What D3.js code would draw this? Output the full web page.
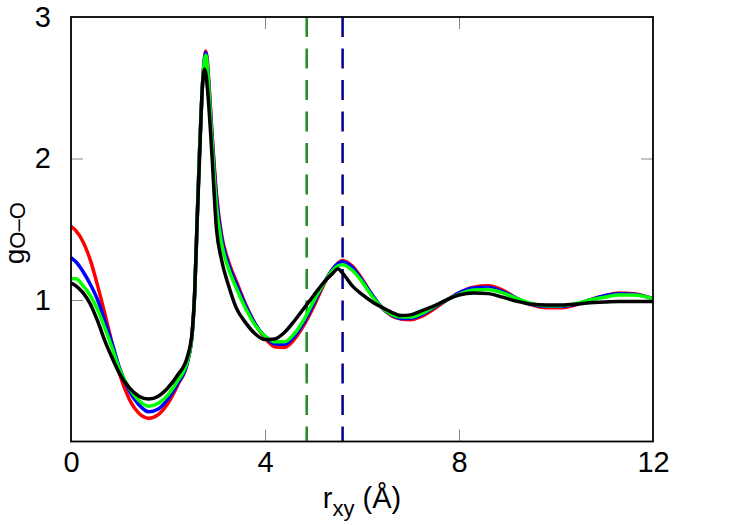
<!DOCTYPE html>
<html><head><meta charset="utf-8">
<script src="https://cdn.jsdelivr.net/npm/d3@7"></script>
<style>body{margin:0;background:#fff} svg{display:block;font-family:"Liberation Sans",Arial,sans-serif}</style>
</head><body><svg id="c" width="750" height="525"></svg>
<script>
// r_xy grid (Å)
const rValues = [0,0.1,0.25,0.4,0.55,0.7,0.85,1.0,1.2,1.4,1.6,1.8,2.0,2.2,2.4,2.5,2.55,2.6,2.65,2.7,2.75,2.78,2.85,2.9,3.0,3.1,3.25,3.4,3.6,3.8,4.0,4.2,4.4,4.6,4.8,5.0,5.2,5.4,5.5,5.6,5.8,6.0,6.2,6.4,6.6,6.8,7.0,7.2,7.5,7.8,8.0,8.3,8.6,8.9,9.2,9.5,9.8,10.1,10.4,10.7,11.0,11.3,11.6,12.0];
const gRed   = [1.52,1.49,1.41,1.28,1.10,0.90,0.69,0.48,0.30,0.20,0.165,0.19,0.27,0.40,0.56,0.77,1.05,1.55,2.05,2.45,2.70,2.76,2.50,2.22,1.75,1.47,1.27,1.14,0.97,0.83,0.73,0.67,0.665,0.72,0.82,0.95,1.10,1.22,1.26,1.28,1.24,1.15,1.04,0.95,0.89,0.865,0.86,0.88,0.94,1.01,1.05,1.09,1.10,1.07,1.01,0.965,0.945,0.945,0.965,1.00,1.03,1.05,1.045,1.01];
const gBlue  = [1.30,1.27,1.20,1.11,1.00,0.85,0.69,0.52,0.36,0.26,0.21,0.23,0.30,0.41,0.56,0.77,1.05,1.55,2.05,2.45,2.70,2.75,2.48,2.20,1.72,1.45,1.25,1.12,0.96,0.83,0.74,0.69,0.685,0.74,0.84,0.97,1.11,1.22,1.255,1.27,1.23,1.14,1.04,0.95,0.895,0.87,0.87,0.89,0.95,1.01,1.05,1.085,1.09,1.06,1.01,0.97,0.955,0.955,0.97,1.00,1.03,1.045,1.04,1.01];
const gGreen = [1.15,1.15,1.10,1.03,0.93,0.80,0.66,0.51,0.38,0.29,0.25,0.27,0.33,0.43,0.57,0.77,1.05,1.55,2.05,2.45,2.69,2.73,2.45,2.16,1.66,1.41,1.22,1.09,0.94,0.82,0.745,0.705,0.705,0.76,0.86,0.99,1.11,1.21,1.24,1.25,1.21,1.13,1.03,0.95,0.90,0.88,0.88,0.90,0.955,1.01,1.04,1.07,1.075,1.05,1.01,0.975,0.96,0.96,0.975,1.00,1.02,1.035,1.035,1.01];
const gBlack = [1.12,1.10,1.05,0.97,0.85,0.71,0.59,0.48,0.38,0.32,0.30,0.32,0.38,0.47,0.60,0.78,1.05,1.55,2.0,2.45,2.63,2.60,2.33,2.06,1.50,1.29,1.10,0.95,0.84,0.76,0.72,0.725,0.77,0.85,0.94,1.03,1.12,1.19,1.22,1.19,1.10,1.04,0.99,0.95,0.915,0.89,0.895,0.92,0.96,1.01,1.035,1.05,1.045,1.02,0.99,0.97,0.965,0.965,0.97,0.98,0.985,0.99,0.99,0.99];
const seriesColors = ["#ff0000","#0000ff","#00ff00","#000000"];
const xTicks = [0,4,8,12];
const yTicks = [1,2,3];
const markerR = [4.86, 5.60];
const markerColors = ["#228b22","#00008b"];

const FONT = "'Liberation Sans',Arial,sans-serif";
const svg = d3.select("#c");
const x = d3.scaleLinear([0,12],[71,653]);
const y = d3.scaleLinear([0,3],[441.5,17]);

// inner ticks
const tickStyle = g => { g.select(".domain").remove(); g.selectAll("line").attr("stroke","#888").attr("stroke-width",1); };
svg.append("g").attr("transform",`translate(0,${y(0)})`).call(d3.axisBottom(x).tickValues([4,8]).tickSize(-12).tickFormat("")).call(tickStyle);
svg.append("g").attr("transform",`translate(0,${y(3)})`).call(d3.axisTop(x).tickValues([4,8]).tickSize(-12).tickFormat("")).call(tickStyle);
svg.append("g").attr("transform",`translate(${x(0)},0)`).call(d3.axisLeft(y).tickValues([1,2]).tickSize(-12).tickFormat("")).call(tickStyle);
svg.append("g").attr("transform",`translate(${x(12)},0)`).call(d3.axisRight(y).tickValues([1,2]).tickSize(-12).tickFormat("")).call(tickStyle);

// tick labels
const lab = g => { g.select(".domain").remove(); g.selectAll("text").attr("font-size",29).attr("fill","#000").attr("font-family",FONT); };
svg.append("g").attr("transform",`translate(0,${y(0)})`).call(d3.axisBottom(x).tickValues(xTicks).tickSize(0).tickPadding(10).tickFormat(d3.format("d"))).call(lab);
svg.append("g").attr("transform",`translate(${x(0)},0)`).call(d3.axisLeft(y).tickValues(yTicks).tickSize(0).tickPadding(20).tickFormat(d3.format("d"))).call(lab);

// dashed markers
svg.selectAll(".mk").data(markerR).enter().append("line")
  .attr("x1",d=>x(d)).attr("x2",d=>x(d)).attr("y1",y(3)).attr("y2",y(0))
  .attr("stroke",(d,i)=>markerColors[i]).attr("stroke-width",2.5).attr("stroke-dasharray","20,11.5");

// curves
const series = [gRed,gBlue,gGreen,gBlack];
const line = d3.line().x((d,i)=>x(rValues[i])).y(d=>y(d)).curve(d3.curveMonotoneX);
svg.selectAll(".s").data(series).enter().append("path")
  .attr("d",line).attr("fill","none").attr("stroke",(d,i)=>seriesColors[i])
  .attr("stroke-width",3.5).attr("stroke-linejoin","round");

// frame
svg.append("rect").attr("x",x(0)).attr("y",y(3)).attr("width",x(12)-x(0)).attr("height",y(0)-y(3))
  .attr("fill","none").attr("stroke","#000").attr("stroke-width",1.8);

// axis titles
const xt = svg.append("text").attr("x",(x(0)+x(12))/2).attr("y",508).attr("text-anchor","middle")
  .attr("font-size",29).attr("font-family",FONT);
xt.append("tspan").text("r");
xt.append("tspan").attr("font-size",22).attr("dy",8).text("xy");
xt.append("tspan").attr("dy",-8).text(" (Å)");

const yt = svg.append("text").attr("transform",`translate(24,${(y(0)+y(3))/2 + 4}) rotate(-90)`).attr("text-anchor","middle")
  .attr("font-size",28).attr("font-family",FONT);
yt.append("tspan").text("g");
yt.append("tspan").attr("font-size",22).attr("dy",1).text("O–O");
</script></body></html>
